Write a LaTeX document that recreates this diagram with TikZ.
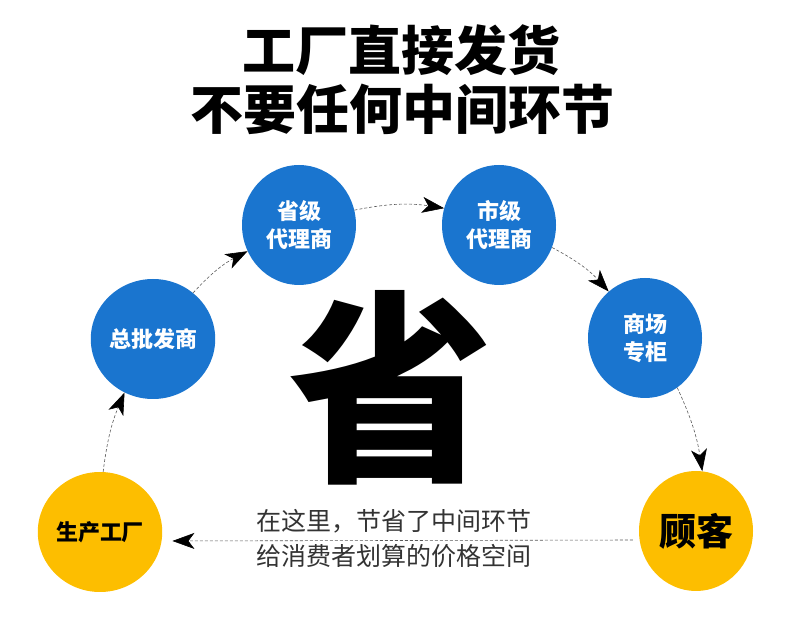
\documentclass[tikz,border=0pt]{standalone}
\usepackage{fontspec}
\setmainfont{Noto Sans CJK SC}
\usepackage{tikz}
\usetikzlibrary{arrows.meta,shapes.geometric}
\definecolor{dotblue}{HTML}{1A75CF}
\definecolor{dotyellow}{HTML}{FDBE00}
\definecolor{textgray}{HTML}{333333}

\begin{document}
\begin{tikzpicture}[x=1pt,y=1pt,
  dot/.style={ellipse,minimum width=114pt,minimum height=120pt,inner sep=0pt,align=center},
  bluedot/.style={dot,fill=dotblue,text=white,font=\fontsize{22}{28}\selectfont\bfseries},
  yellowdot/.style={dot,fill=dotyellow,text=black,font=\fontsize{22}{28}\selectfont\bfseries},
  link/.style={dashed,dash pattern=on 3pt off 2pt,gray!70!black,line width=0.6pt,
    -{Stealth[length=22pt,width=16pt,inset=6pt,black]}}]
  \useasboundingbox (0,0) rectangle (790,632);
  % title
  \node (title1) at (401,582) {\fontsize{53}{60}\selectfont\bfseries 工厂直接发货};
  \node (title2) at (402,523) {\fontsize{53}{60}\selectfont\bfseries 不要任何中间环节};
  % big character
  \node (sheng) at (391,244) {\fontsize{205}{210}\selectfont\bfseries 省};
  % the chain
  \node[yellowdot] (fab) at (100,100) {生产工厂};
  \node[bluedot] (zpf) at (153,293) {总批发商};
  \node[bluedot] (sj) at (299,407) {省级\\代理商};
  \node[bluedot] (shj) at (499,407) {市级\\代理商};
  \node[bluedot] (sc) at (645,294) {商场\\专柜};
  \node[yellowdot,font=\fontsize{37}{40}\selectfont\bfseries] (gk) at (696,101) {顾客};
  \draw[link] (fab.87) to[bend left=8] (zpf.242);
  \draw[link] (zpf.49) to[bend left=10] (sj.207);
  \draw[link] (sj.15) to[bend left=10] (shj.163);
  \draw[link] (shj.337) to[bend left=10] (sc.128);
  \draw[link] (sc.303) to[bend left=8] (gk.84);
  % way back
  \draw[link,shorten <=6pt,shorten >=10pt] ([yshift=-9pt]gk.west) -- ([yshift=-9pt]fab.east);
  \node[text=textgray,font=\fontsize{25}{36}\selectfont,align=center,inner sep=1pt] (note) at (394,93)
    {在这里，节省了中间环节\\[-1pt]给消费者划算的价格空间};
\end{tikzpicture}
\end{document}
